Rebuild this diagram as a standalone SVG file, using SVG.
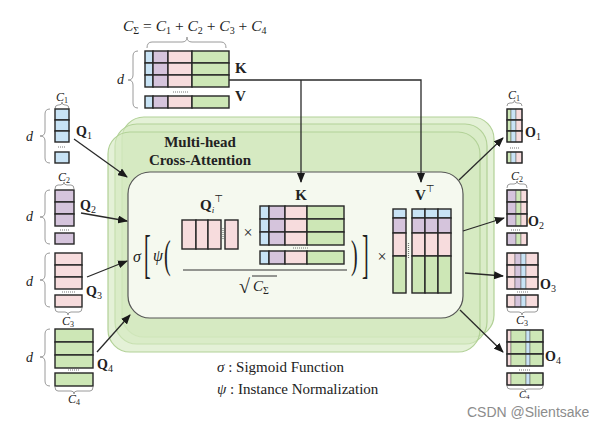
<svg xmlns="http://www.w3.org/2000/svg" width="615" height="423" viewBox="0 0 615 423">
<style>
.b{fill:#c8e3f5}.p{fill:#d5c4dc}.k{fill:#f7dcdd}.g{fill:#cde7b6}
.c{stroke:#262626;stroke-width:1.4}
.s{stroke:#555;stroke-width:0.5}
.o{fill:none;stroke:#262626;stroke-width:1.4}
.br{fill:none;stroke:#9a9a9a;stroke-width:1}
.dots{stroke:#777;stroke-width:1.2;stroke-dasharray:1 1}
.t{font-family:"Liberation Serif","DejaVu Serif",serif;fill:#222}
.bd{font-weight:bold}
.it{font-style:italic}
.lay{fill:#d3e8be;fill-opacity:0.62;stroke:#b2d197;stroke-width:1.2}
.ar{fill:none;stroke:#2a2a2a;stroke-width:1.3;marker-end:url(#ah)}
</style>
<defs>
<marker id="ah" markerUnits="userSpaceOnUse" markerWidth="10" markerHeight="8" refX="9" refY="4" orient="auto"><path d="M0,0 L10,4 L0,8 z" fill="#1a1a1a"/></marker>
<g id="krow"><rect class="b c" x="0" y="0" width="8" height="12"/><rect class="p c" x="8" y="0" width="15" height="12"/><rect class="k c" x="23" y="0" width="24" height="12"/><rect class="g c" x="47" y="0" width="37" height="12"/></g>
<g id="krowc"><rect class="b c" x="0" y="0" width="9" height="13"/><rect class="p c" x="9" y="0" width="16" height="13"/><rect class="k c" x="25" y="0" width="22" height="13"/><rect class="g c" x="47" y="0" width="37" height="13"/></g>
<g id="vcol"><rect class="b c" x="0" y="0" width="13" height="9"/><rect class="p c" x="0" y="9" width="13" height="15"/><rect class="k c" x="0" y="24" width="13" height="23"/><rect class="g c" x="0" y="47" width="13" height="37"/></g>
<g id="o1"><rect class="g s" x="0" y="0" width="4" height="11"/><rect class="b s" x="4" y="0" width="5" height="11"/><rect class="k s" x="9" y="0" width="6" height="11"/><rect class="o" x="0" y="0" width="15" height="11"/></g>
<g id="o2"><rect class="p s" x="0" y="0" width="9" height="12"/><rect class="g s" x="9" y="0" width="5" height="12"/><rect class="k s" x="14" y="0" width="6" height="12"/><rect class="o" x="0" y="0" width="20" height="12"/></g>
<g id="o3"><rect class="k s" x="0" y="0" width="8" height="12"/><rect class="p s" x="8" y="0" width="6" height="12"/><rect class="b s" x="14" y="0" width="5" height="12"/><rect class="k s" x="19" y="0" width="12" height="12"/><rect class="o" x="0" y="0" width="31" height="12"/></g>
<g id="o4"><rect class="k s" x="0" y="0" width="4" height="12"/><rect class="g s" x="4" y="0" width="15" height="12"/><rect class="b s" x="19" y="0" width="4" height="12"/><rect class="g s" x="23" y="0" width="13" height="12"/><rect class="o" x="0" y="0" width="36" height="12"/></g>
</defs>
<rect width="615" height="423" fill="#ffffff"/>

<g id="attention-block">
<rect class="lay" x="122" y="117" width="372" height="220" rx="22"/>
<rect class="lay" x="115" y="124" width="372" height="220" rx="22"/>
<rect class="lay" x="108" y="132" width="372" height="220" rx="22"/>
<text class="t bd" x="200" y="147" font-size="15" text-anchor="middle">Multi-head</text>
<text class="t bd" x="200" y="165" font-size="15" text-anchor="middle">Cross-Attention</text>
<rect x="128" y="172" width="335" height="146" rx="22" fill="#f5f9ef" stroke="#555" stroke-width="1.2"/>
</g>

<g id="kv-top">
<text class="t" x="123" y="31" font-size="15.5"><tspan class="it">C</tspan><tspan font-size="10" dy="3">Σ</tspan><tspan dy="-3"> = </tspan><tspan class="it">C</tspan><tspan font-size="10" dy="3">1</tspan><tspan dy="-3"> + </tspan><tspan class="it">C</tspan><tspan font-size="10" dy="3">2</tspan><tspan dy="-3"> + </tspan><tspan class="it">C</tspan><tspan font-size="10" dy="3">3</tspan><tspan dy="-3"> + </tspan><tspan class="it">C</tspan><tspan font-size="10" dy="3">4</tspan></text>
<path class="br" d="M147,48 Q147,42 152,42 H182 Q187,42 187,37 Q187,42 192,42 H221 Q226,42 226,48"/>
<path class="br" d="M138,51 Q133,51 133,56 V75 Q133,80 128,80 Q133,80 133,85 V103 Q133,108 138,108"/>
<text class="t it" x="117" y="84" font-size="14">d</text>
<use href="#krow" x="145" y="51"/><use href="#krow" x="145" y="63"/><use href="#krow" x="145" y="75"/>
<line class="dots" x1="173" y1="92" x2="188" y2="92"/>
<use href="#krow" x="145" y="96"/>
<text class="t bd" x="235" y="73" font-size="15">K</text>
<text class="t bd" x="235" y="101" font-size="15">V</text>
</g>

<g id="q1">
<text class="t" x="56" y="101" font-size="12"><tspan class="it">C</tspan><tspan font-size="8" dy="2">1</tspan></text>
<path class="br" d="M55,109 Q55,105 58,105 H59 Q62,105 62,102 Q62,105 65,105 H66 Q69,105 69,109"/>
<path class="br" d="M50,109 Q45,109 45,114 V131 Q45,136 40,136 Q45,136 45,141 V158 Q45,163 50,163"/>
<text class="t it" x="26" y="141" font-size="14">d</text>
<rect class="b c" x="55" y="109" width="14" height="11"/><rect class="b c" x="55" y="120" width="14" height="11"/><rect class="b c" x="55" y="131" width="14" height="11"/>
<line class="dots" x1="58" y1="147" x2="66" y2="147"/>
<rect class="b c" x="55" y="152" width="14" height="11"/>
<text class="t bd" x="76" y="136" font-size="14">Q<tspan font-size="10" font-weight="normal" dy="3">1</tspan></text>
</g>

<g id="q2">
<text class="t" x="58" y="181" font-size="12"><tspan class="it">C</tspan><tspan font-size="8" dy="2">2</tspan></text>
<path class="br" d="M55,189 Q55,185 58,185 H61 Q64,185 64,182 Q64,185 67,185 H71 Q74,185 74,189"/>
<path class="br" d="M50,190 Q45,190 45,195 V212 Q45,217 40,217 Q45,217 45,222 V239 Q45,244 50,244"/>
<text class="t it" x="26" y="221" font-size="14">d</text>
<rect class="p c" x="55" y="190" width="19" height="12"/><rect class="p c" x="55" y="202" width="19" height="12"/><rect class="p c" x="55" y="214" width="19" height="12"/>
<line class="dots" x1="60" y1="230" x2="69" y2="230"/>
<rect class="p c" x="55" y="233" width="19" height="11"/>
<text class="t bd" x="80" y="210" font-size="14">Q<tspan font-size="10" font-weight="normal" dy="3">2</tspan></text>
</g>

<g id="q3">
<path class="br" d="M50,253 Q45,253 45,258 V275 Q45,280 40,280 Q45,280 45,285 V302 Q45,307 50,307"/>
<text class="t it" x="26" y="286" font-size="14">d</text>
<rect class="k c" x="55" y="253" width="27" height="12"/><rect class="k c" x="55" y="265" width="27" height="12"/><rect class="k c" x="55" y="277" width="27" height="12"/>
<line class="dots" x1="62" y1="292" x2="75" y2="292"/>
<rect class="k c" x="55" y="295" width="27" height="12"/>
<path class="br" d="M55,308 Q55,312 58,312 H65 Q68,312 68,315 Q68,312 71,312 H79 Q82,312 82,308"/>
<text class="t" x="62" y="325" font-size="12"><tspan class="it">C</tspan><tspan font-size="8" dy="2">3</tspan></text>
<text class="t bd" x="86" y="296" font-size="14">Q<tspan font-size="10" font-weight="normal" dy="3">3</tspan></text>
</g>

<g id="q4">
<path class="br" d="M50,329 Q45,329 45,334 V352 Q45,357 40,357 Q45,357 45,362 V381 Q45,386 50,386"/>
<text class="t it" x="26" y="362" font-size="14">d</text>
<rect class="g c" x="55" y="329" width="38" height="13"/><rect class="g c" x="55" y="342" width="38" height="13"/><rect class="g c" x="55" y="355" width="38" height="13"/>
<line class="dots" x1="68" y1="370" x2="80" y2="370"/>
<rect class="g c" x="55" y="373" width="38" height="13"/>
<path class="br" d="M55,387 Q55,391 58,391 H71 Q74,391 74,394 Q74,391 77,391 H90 Q93,391 93,387"/>
<text class="t" x="68" y="403" font-size="12"><tspan class="it">C</tspan><tspan font-size="8" dy="2">4</tspan></text>
<text class="t bd" x="97" y="369" font-size="14">Q<tspan font-size="10" font-weight="normal" dy="3">4</tspan></text>
</g>

<g id="formula">
<text class="t it" x="133" y="262" font-size="16">σ</text>
<text class="t" x="0" y="0" font-size="20" transform="translate(144,272) scale(1,2.6)">[</text>
<text class="t it" x="153" y="261" font-size="16">ψ</text>
<text class="t" x="0" y="0" font-size="20" transform="translate(164,268) scale(1,2)">(</text>
<text class="t bd" x="200" y="210" font-size="15">Q<tspan class="it" font-weight="normal" font-size="9" dy="3">i</tspan><tspan font-weight="normal" font-size="10" dy="-11" font-family="DejaVu Sans">⊤</tspan></text>
<rect class="k c" x="182" y="220" width="14" height="29"/><rect class="k c" x="196" y="220" width="12" height="29"/><rect class="k c" x="208" y="220" width="13" height="29"/>
<line class="dots" x1="223" y1="228" x2="223" y2="240"/>
<rect class="k c" x="225" y="220" width="13" height="29"/>
<text class="t" x="248" y="238" font-size="16" text-anchor="middle" fill="#555">×</text>
<text class="t bd" x="301" y="200" font-size="15" text-anchor="middle">K</text>
<use href="#krowc" x="260" y="206"/><use href="#krowc" x="260" y="219"/><use href="#krowc" x="260" y="232"/>
<line class="dots" x1="293" y1="248" x2="309" y2="248"/>
<use href="#krowc" x="260" y="251"/>
<line x1="183" y1="270" x2="347" y2="270" stroke="#333" stroke-width="1"/>
<text class="t" x="239" y="293" font-size="20">√</text>
<line x1="252" y1="276" x2="277" y2="276" stroke="#333" stroke-width="1"/>
<text class="t" x="253" y="291" font-size="15"><tspan class="it">C</tspan><tspan font-size="10" dy="3">Σ</tspan></text>
<text class="t" x="0" y="0" font-size="20" transform="translate(351,268) scale(1,2)">)</text>
<text class="t" x="0" y="0" font-size="20" transform="translate(362,272) scale(1,2.6)">]</text>
<text class="t" x="382" y="262" font-size="16" text-anchor="middle" fill="#555">×</text>
<text class="t bd" x="415" y="200" font-size="15">V<tspan font-weight="normal" font-size="10" dy="-8" font-family="DejaVu Sans">⊤</tspan></text>
<use href="#vcol" x="393" y="209"/>
<line class="dots" x1="408.5" y1="243" x2="408.5" y2="258"/>
<use href="#vcol" x="412" y="209"/><use href="#vcol" x="425" y="209"/><use href="#vcol" x="438" y="209"/>
</g>

<g id="o1m">
<text class="t" x="508" y="99" font-size="12"><tspan class="it">C</tspan><tspan font-size="8" dy="2">1</tspan></text>
<path class="br" d="M507,106 Q507,103 510,103 H512 Q514.5,103 514.5,100 Q514.5,103 517,103 H519 Q522,103 522,106"/>
<use href="#o1" x="507" y="109"/><use href="#o1" x="507" y="120"/><use href="#o1" x="507" y="131"/>
<line class="dots" x1="510" y1="148" x2="519" y2="148"/>
<use href="#o1" x="507" y="152"/>
<text class="t bd" x="525" y="137" font-size="14">O<tspan font-size="10" font-weight="normal" dy="3">1</tspan></text>
</g>

<g id="o2m">
<text class="t" x="511" y="180" font-size="12"><tspan class="it">C</tspan><tspan font-size="8" dy="2">2</tspan></text>
<path class="br" d="M507,188 Q507,184 510,184 H514 Q517,184 517,181 Q517,184 520,184 H524 Q527,184 527,188"/>
<use href="#o2" x="507" y="190"/><use href="#o2" x="507" y="202"/><use href="#o2" x="507" y="214"/>
<line class="dots" x1="511" y1="230" x2="521" y2="230"/>
<use href="#o2" x="507" y="233"/>
<text class="t bd" x="528" y="226" font-size="14">O<tspan font-size="10" font-weight="normal" dy="3">2</tspan></text>
</g>

<g id="o3m">
<use href="#o3" x="507" y="253"/><use href="#o3" x="507" y="265"/><use href="#o3" x="507" y="277"/>
<line class="dots" x1="517" y1="292" x2="528" y2="292"/>
<use href="#o3" x="507" y="295"/>
<path class="br" d="M507,308 Q507,312 510,312 H519 Q522,312 522,315 Q522,312 525,312 H535 Q538,312 538,308"/>
<text class="t" x="516" y="324" font-size="12"><tspan class="it">C</tspan><tspan font-size="8" dy="2">3</tspan></text>
<text class="t bd" x="540" y="289" font-size="14">O<tspan font-size="10" font-weight="normal" dy="3">3</tspan></text>
</g>

<g id="o4m">
<use href="#o4" x="507" y="330"/><use href="#o4" x="507" y="342"/><use href="#o4" x="507" y="354"/>
<line class="dots" x1="519" y1="370" x2="530" y2="370"/>
<use href="#o4" x="507" y="373"/>
<path class="br" d="M507,386 Q507,389 510,389 H522 Q525,389 525,391 Q525,389 528,389 H540 Q543,389 543,386"/>
<text class="t" x="519" y="398" font-size="10.5"><tspan class="it">C</tspan><tspan font-size="7" dy="1">4</tspan></text>
<text class="t bd" x="545" y="361" font-size="14">O<tspan font-size="10" font-weight="normal" dy="3">4</tspan></text>
</g>

<g id="connectors">
<path class="ar" d="M229,80 H421 V182"/>
<path class="ar" d="M301,80 V182"/>
<path class="ar" d="M74,139 L127,177"/>
<path class="ar" d="M81,213 L127,221"/>
<path class="ar" d="M87,277 L127,261"/>
<path class="ar" d="M97,352 L130,315"/>
<path class="ar" d="M459,180 L503,138"/>
<path class="ar" d="M463,231 L504,218"/>
<path class="ar" d="M465,273 L503,276"/>
<path class="ar" d="M460,310 L503,352"/>
</g>

<g id="legend">
<text class="t" x="217" y="372" font-size="15"><tspan class="it">σ</tspan> : Sigmoid Function</text>
<text class="t" x="217" y="394" font-size="15"><tspan class="it">ψ</tspan> : Instance Normalization</text>
</g>

<text x="467" y="417" font-family="Liberation Sans, Arial, sans-serif" font-size="14" fill="#8c8c8c">CSDN @Slientsake</text>
</svg>
